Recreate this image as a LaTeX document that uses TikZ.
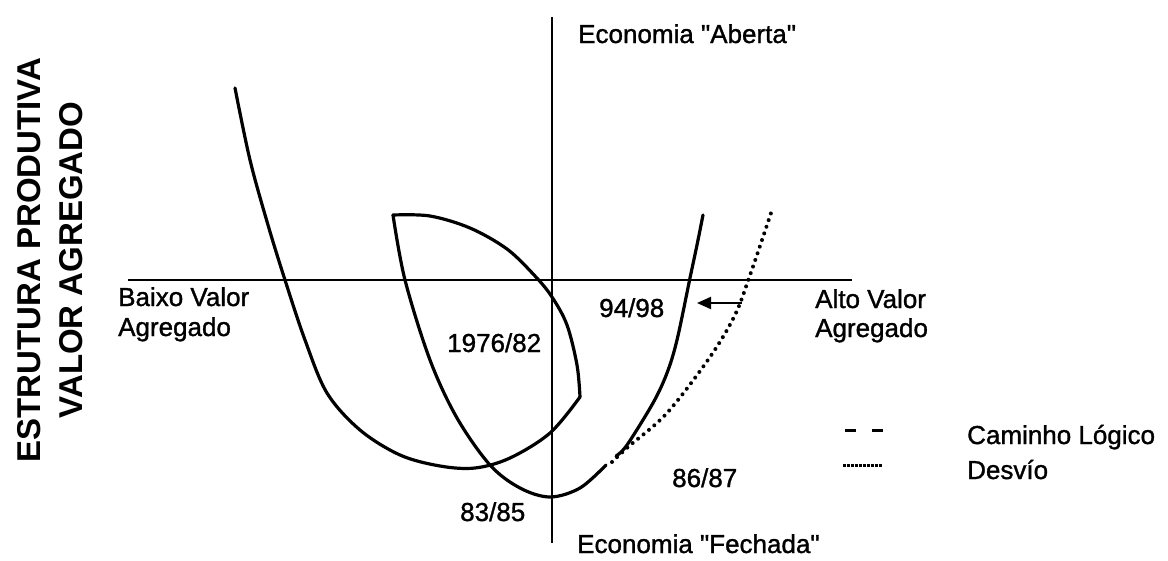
\documentclass[tikz,border=0pt]{standalone}
\usepackage{fontspec}
\setmainfont{Liberation Sans}
\newfontfamily\lblfont{Liberation Sans}[FakeBold=1.2]
\usetikzlibrary{arrows.meta}
\begin{document}
\begin{tikzpicture}[x=1pt,y=-1pt,
  curve/.style={line width=3.2pt, line join=round, line cap=round},
  axisline/.style={line width=1.7pt},
  lbl/.style={font=\lblfont\fontsize{26}{30}\selectfont, inner sep=0pt, anchor=base west},
  ttl/.style={font=\bfseries\fontsize{33}{42}\selectfont, inner sep=0pt, rotate=90, align=center},
  dotc/.style={line width=4pt, line cap=round, dash pattern=on 0pt off 7pt},
  arr/.style={line width=2pt, -{Triangle[length=14pt,width=12pt]}}
]
\useasboundingbox (0,0) rectangle (1168,560);
% axes
\coordinate (hL) at (128,280); \coordinate (hR) at (852,280);
\coordinate (vT) at (552,17);  \coordinate (vB) at (552,543);
\draw[axisline] (hL) -- (hR);
\draw[axisline] (vT) -- (vB);
% curves
\draw[curve] plot[smooth,tension=0.55] coordinates {(235,88) (250,160) (268,225) (285,280) (305,340) (327,393) (360,430) (400,455) (440,466) (475,468) (510,458) (550,433) (580,397)};
\draw[curve] plot[smooth,tension=0.55] coordinates {(580,397) (577,365) (567,325) (552,297) (535,276) (507,249) (470,228) (430,216) (393,215)};
\draw[curve] plot[smooth,tension=0.55] coordinates {(393,215) (405,280) (430,360) (457,418) (490,465) (520,488) (550,497) (580,488) (606,465)};
\draw[curve] plot[smooth,tension=0.55] coordinates {(616,456) (627,445) (653,403) (667,373) (677,340) (690,278) (697,245) (703,215)};
\draw[dotc] plot[smooth,tension=0.55] coordinates {(612,462) (628,447) (667,413) (710,357) (735,315) (749,278) (762,240) (773,207)};
% arrow
\coordinate (arS) at (742,303); \coordinate (arE) at (697,303);
\draw[arr] (arS) -- (arE);
% labels
\node[ttl] (title) at (50,260) {ESTRUTURA PRODUTIVA\\VALOR AGREGADO};
\node[lbl] (aberta) at (578,43) {Economia "Aberta"};
\node[lbl] (fechada) at (577,553) {Economia "Fechada"};
\node[lbl] (baixo1) at (118,306) {Baixo Valor};
\node[lbl] (baixo2) at (118,336) {Agregado};
\node[lbl] (alto1) at (815,308) {Alto Valor};
\node[lbl] (alto2) at (815,337) {Agregado};
\node[lbl] (p9498) at (599,317) {94/98};
\node[lbl] (p7682) at (447,352) {1976/82};
\node[lbl] (p8385) at (460,521) {83/85};
\node[lbl] (p8687) at (672,487) {86/87};
% legend
\coordinate (l1a) at (845,430); \coordinate (l1b) at (883,430);
\draw[line width=3pt, dash pattern=on 11pt off 16pt] (l1a) -- (l1b);
\coordinate (l2a) at (843,465); \coordinate (l2b) at (883,465);
\draw[line width=3pt, dash pattern=on 3pt off 1pt] (l2a) -- (l2b);
\node[lbl] (leg1) at (967,444) {Caminho Lógico};
\node[lbl] (leg2) at (967,479) {Desvío};
\end{tikzpicture}
\end{document}
